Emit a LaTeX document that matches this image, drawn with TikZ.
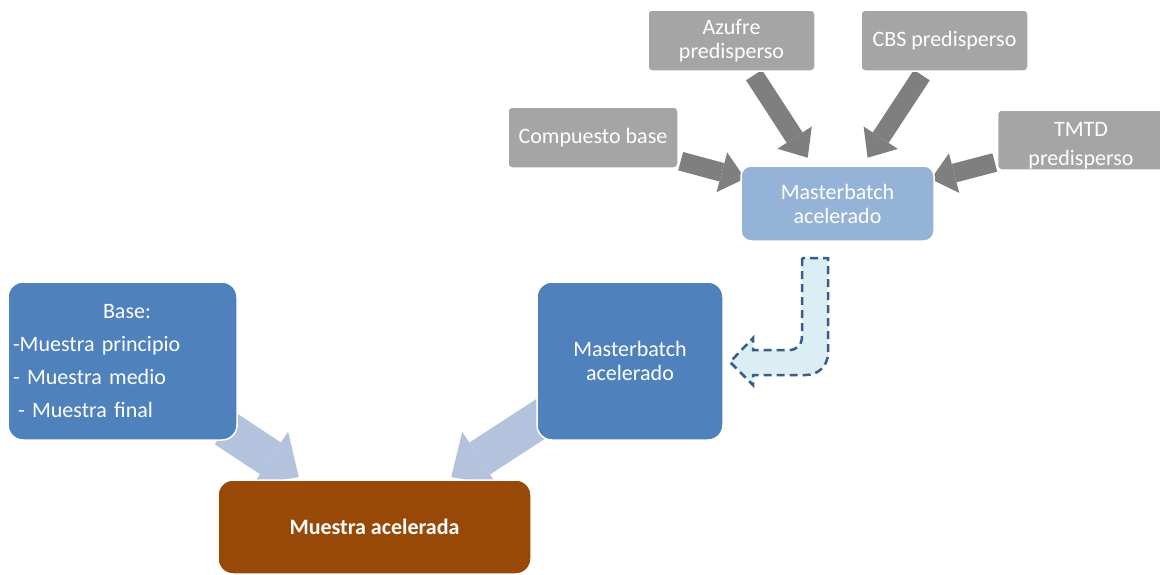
\documentclass[tikz,border=0pt]{standalone}
\usepackage{fontspec}
\setmainfont{Carlito}
\usetikzlibrary{arrows.meta,backgrounds}

\definecolor{boxgray}{HTML}{A5A5A5}
\definecolor{arrowgray}{HTML}{7F7F7F}
\definecolor{mblight}{HTML}{95B3D7}
\definecolor{boxblue}{HTML}{4F81BD}
\definecolor{arrowblue}{HTML}{B3C3DE}
\definecolor{boxbrown}{HTML}{984807}
\definecolor{flowfill}{HTML}{DBEEF4}
\definecolor{flowline}{HTML}{385D8A}

\begin{document}
\begin{tikzpicture}[x=1pt,y=-1pt,
    panel/.style={rounded corners=#1, draw=white, line width=1.5pt, text=white,
      align=center, inner sep=0pt, font=\fontsize{22}{24}\selectfont},
    graybox/.style={panel=4pt, fill=boxgray, minimum width=167pt, minimum height=61pt},
    grayflow/.style={draw=arrowgray, line width=19pt,
      -{Triangle[length=24pt,width=41pt,line width=0pt]}},
    blueflow/.style={draw=arrowblue, line width=38pt,
      -{Triangle[length=34pt,width=64pt,line width=0pt]}},
    dashflow/.style={fill=flowfill, draw=flowline, line width=2.5pt,
      dash pattern=on 8pt off 5pt}]
    \useasboundingbox (0,0) rectangle (1160,574);

    % Ingredients
    \node[graybox] (azufre) at (731.5,40.5) {Azufre\\predisperso};
    \node[graybox] (cbs) at (944.5,40.5) {CBS predisperso};
    \node[graybox, minimum width=170pt] (cbase) at (593,137.5) {Compuesto base};
    \node[graybox, minimum height=60pt] (tmtd) at (1081,140) {};
    \node[text=white, align=center, inner sep=0pt, font=\fontsize{22}{29}\selectfont]
      (tmtdtext) at (1081,146) {TMTD\\predisperso};

    % Masterbatch
    \node[panel=10pt, fill=mblight, minimum width=193pt, minimum height=75pt]
      (mbtop) at (837.5,203.5) {Masterbatch\\acelerado};
    \node[panel=15pt, fill=boxblue, minimum width=186pt, minimum height=158pt]
      (mbside) at (630,361) {Masterbatch\\acelerado};

    % Base samples
    \node[panel=15pt, fill=boxblue, minimum width=229pt, minimum height=158pt,
      align=left, text width=219pt, font=\fontsize{22}{33}\selectfont]
      (base) at (122.5,361) {\makebox[219pt][c]{\hspace*{9pt}Base:}\\-Muestra principio\\- Muestra medio\\\hspace*{5pt}- Muestra final};

    % Result
    \node[panel=15pt, fill=boxbrown, minimum width=313pt, minimum height=94pt,
      font=\fontsize{22}{24}\selectfont\bfseries] (muestra) at (374.5,527) {Muestra acelerada};

    \begin{pgfonlayer}{background}
        \draw[grayflow, shorten <=2pt, shorten >=-5pt] (cbase) -- (mbtop);
        \draw[grayflow, shorten <=4pt, shorten >=9pt] (azufre) -- (mbtop);
        \draw[grayflow, shorten <=4pt, shorten >=9pt] (cbs) -- (mbtop);
        \draw[grayflow, shorten <=2pt, shorten >=-4pt] (tmtd) -- (mbtop);

        \draw[blueflow, shorten <=-15pt, shorten >=4pt] (base) -- (muestra);
        \draw[blueflow, shorten <=-15pt, shorten >=4pt] (mbside) -- (muestra);
    \end{pgfonlayer}

    % Hand over to the second masterbatch box
    \draw[dashflow] (802,258) -- (802,336) .. controls (802,345) and (797,350) .. (789,350)
      -- (753,350) -- (753,338) -- (730,362) -- (753,385) -- (753,375) -- (806,375)
      .. controls (818,375) and (828,366) .. (828,353) -- (828,258) -- cycle;
\end{tikzpicture}
\end{document}
